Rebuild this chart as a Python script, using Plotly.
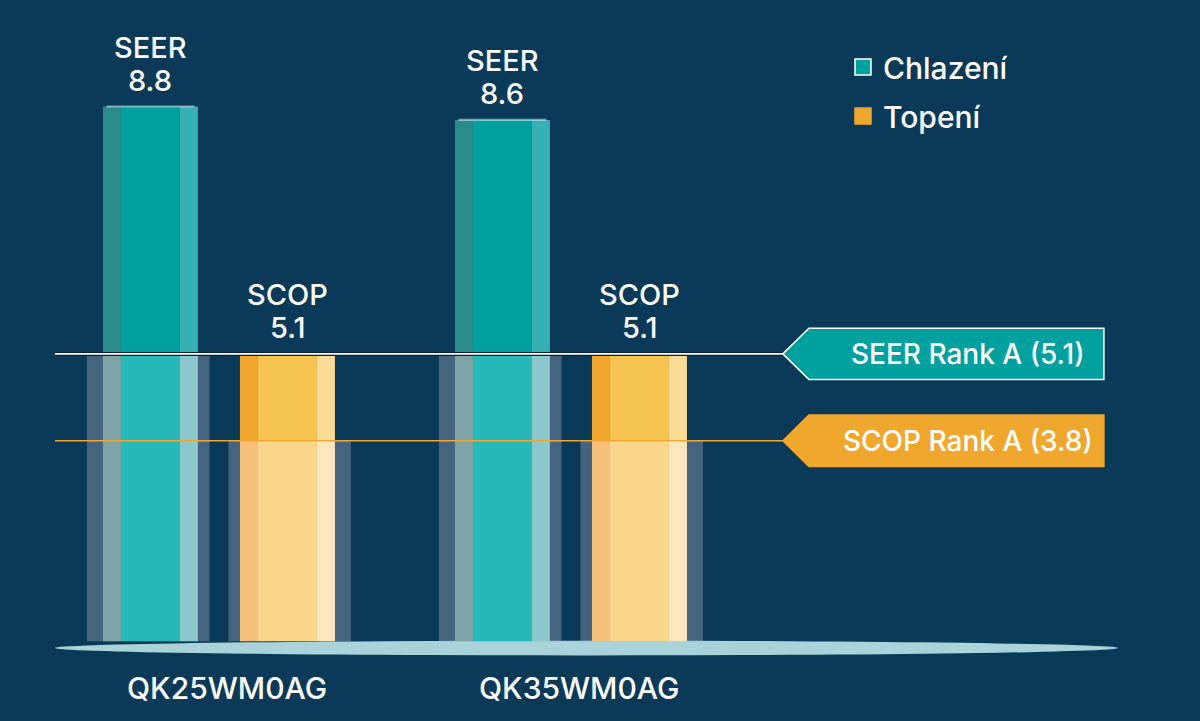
import plotly.graph_objects as go

# ---------------- data ----------------
categories = ["QK25WM0AG", "QK35WM0AG"]
series_names = ["Chlazení", "Topení"]
metric_labels = ["SEER", "SCOP"]
seer_values = [8.8, 8.6]
scop_values = [5.1, 5.1]
rank_labels = ["SEER Rank A (5.1)", "SCOP Rank A (3.8)"]
rank_values = [5.1, 3.8]

# ---------------- style ----------------
BG = "#0a3a57"
FONT = "Inter"
WEIGHT = 500
BASE = 0.8  # floor of the bars (sits on the ellipse)

TEAL_UP = ["#2a8b8d", "#00a09f", "#36b0b2"]
TEAL_LO = ["#7fa5a8", "#27b9b9", "#8cc8cb"]
GOLD_UP = ["#f0a72e", "#f6c450", "#fadb98"]
GOLD_LO = ["#f5c07a", "#fad68c", "#fde6be"]
BAND = "rgba(150,160,185,0.42)"

STRIP_W = [0.0511, 0.1676, 0.0511]
BAR_LEFT = [-0.3295, 0.0597]
BAND_LEFT = [-0.375, 0.027]
BAND_W = 0.348

xs = list(range(len(categories)))
series = [seer_values, scop_values]
up_cols = [TEAL_UP, GOLD_UP]
lo_cols = [TEAL_LO, GOLD_LO]

fig = go.Figure()

for si, vals in enumerate(series):
    thr = rank_values[si]
    # translucent glass band behind bar, from floor to rank line
    fig.add_trace(go.Bar(
        x=xs, y=[thr - BASE for _ in vals], base=BASE,
        offset=BAND_LEFT[si], width=BAND_W,
        marker=dict(color=BAND, line=dict(width=0)),
        showlegend=False, hoverinfo="skip"))
    off = BAR_LEFT[si]
    for k, w in enumerate(STRIP_W):
        # lower part (below rank line)
        fig.add_trace(go.Bar(
            x=xs, y=[min(v, thr) - BASE for v in vals], base=BASE,
            offset=off, width=w,
            marker=dict(color=lo_cols[si][k], line=dict(width=0)),
            showlegend=False, hoverinfo="skip"))
        # upper part (above rank line)
        fig.add_trace(go.Bar(
            x=xs, y=[max(v - thr, 0) for v in vals], base=thr,
            offset=off, width=w,
            marker=dict(color=up_cols[si][k], line=dict(width=0)),
            showlegend=False,
            hovertemplate=series_names[si] + " %{x}: %{customdata}<extra></extra>",
            customdata=vals))
        off += w

# light cap on top of each bar
for si, vals in enumerate(series):
    fig.add_trace(go.Bar(
        x=xs, y=[0.03 for _ in vals], base=[v - 0.015 for v in vals],
        offset=BAR_LEFT[si] + 0.01, width=sum(STRIP_W) - 0.02,
        marker=dict(color="rgba(220,240,245,0.55)", line=dict(width=0)),
        showlegend=False, hoverinfo="skip"))

# rank lines
line_cols = ["#ffffff", "#f0a72e"]
for ri, rv in enumerate(rank_values):
    if ri == 0:
        fig.add_trace(go.Scatter(x=[-0.466, 1.608], y=[rv, rv], mode="lines",
                                 line=dict(color="#06233a", width=4),
                                 showlegend=False, hoverinfo="skip"))
    fig.add_trace(go.Scatter(x=[-0.466, 1.608], y=[rv, rv], mode="lines",
                             line=dict(color=line_cols[ri], width=1.6),
                             showlegend=False, hoverinfo="skip"))

# legend entries
leg_cols = [TEAL_UP[1], GOLD_UP[0]]
leg_lines = ["#ffffff", GOLD_UP[0]]
for i, nm in enumerate(series_names):
    fig.add_trace(go.Scatter(
        x=[None], y=[None], mode="markers", name=nm, legendgroup=nm,
        marker=dict(symbol="square", size=22, color=leg_cols[i],
                    line=dict(color=leg_lines[i], width=1.5))))

shapes = []
annotations = []

# floor ellipse
shapes.append(dict(type="circle", xref="x", yref="y", layer="below",
                   x0=-0.466, x1=2.554, y0=0.59, y1=0.81,
                   fillcolor="#a9d3d8", line=dict(width=0)))

# rank tags
tag_fill = ["#00a09f", "#f0a72e"]
tag_line = ["#ffffff", "#f0a72e"]
H = 0.385
for ri, rv in enumerate(rank_values):
    p = (f"M 1.602 {rv} L 1.676 {rv + H} L 2.514 {rv + H} "
         f"L 2.514 {rv - H} L 1.676 {rv - H} Z")
    shapes.append(dict(type="path", xref="x", yref="y", path=p, layer="above",
                       fillcolor=tag_fill[ri], line=dict(color=tag_line[ri], width=1.5)))
    annotations.append(dict(x=2.127, y=rv, xref="x", yref="y", text=rank_labels[ri],
                            showarrow=False, xanchor="center", yanchor="middle",
                            font=dict(family=FONT, size=28, color="white", weight=500)))

# value labels above bars
for si, vals in enumerate(series):
    cx_off = BAR_LEFT[si] + sum(STRIP_W) / 2
    for gi, v in enumerate(vals):
        annotations.append(dict(x=xs[gi] + cx_off, y=v, xref="x", yref="y",
                                text=metric_labels[si], showarrow=False,
                                yanchor="middle", yshift=59,
                                font=dict(family=FONT, size=29, color="white", weight=WEIGHT)))
        annotations.append(dict(x=xs[gi] + cx_off, y=v, xref="x", yref="y",
                                text=f"{v:.1f}", showarrow=False,
                                yanchor="middle", yshift=26,
                                font=dict(family=FONT, size=29, color="white", weight=WEIGHT)))

# category labels
for gi, c in enumerate(categories):
    annotations.append(dict(x=xs[gi], y=0.0458, xref="x", yref="paper", text=c,
                            showarrow=False, xshift=8, yanchor="middle",
                            font=dict(family=FONT, size=30, color="white", weight=WEIGHT)))

fig.update_layout(
    width=1200, height=721, autosize=False,
    margin=dict(l=0, r=0, t=0, b=0),
    paper_bgcolor=BG, plot_bgcolor=BG,
    barmode="overlay",
    xaxis=dict(range=[-0.622, 2.787], visible=False, fixedrange=True),
    yaxis=dict(range=[-0.391, 10.393], visible=False, fixedrange=True),
    shapes=shapes, annotations=annotations,
    showlegend=True,
    legend=dict(x=0.7025, y=0.943, xanchor="left", yanchor="top",
                bgcolor="rgba(0,0,0,0)", tracegroupgap=7,
                font=dict(family=FONT, size=30, color="white", weight=WEIGHT)),
)

fig.write_html("out.html", config={"displayModeBar": False},
               post_script="document.body.style.margin='0';document.body.style.overflow='hidden';")
